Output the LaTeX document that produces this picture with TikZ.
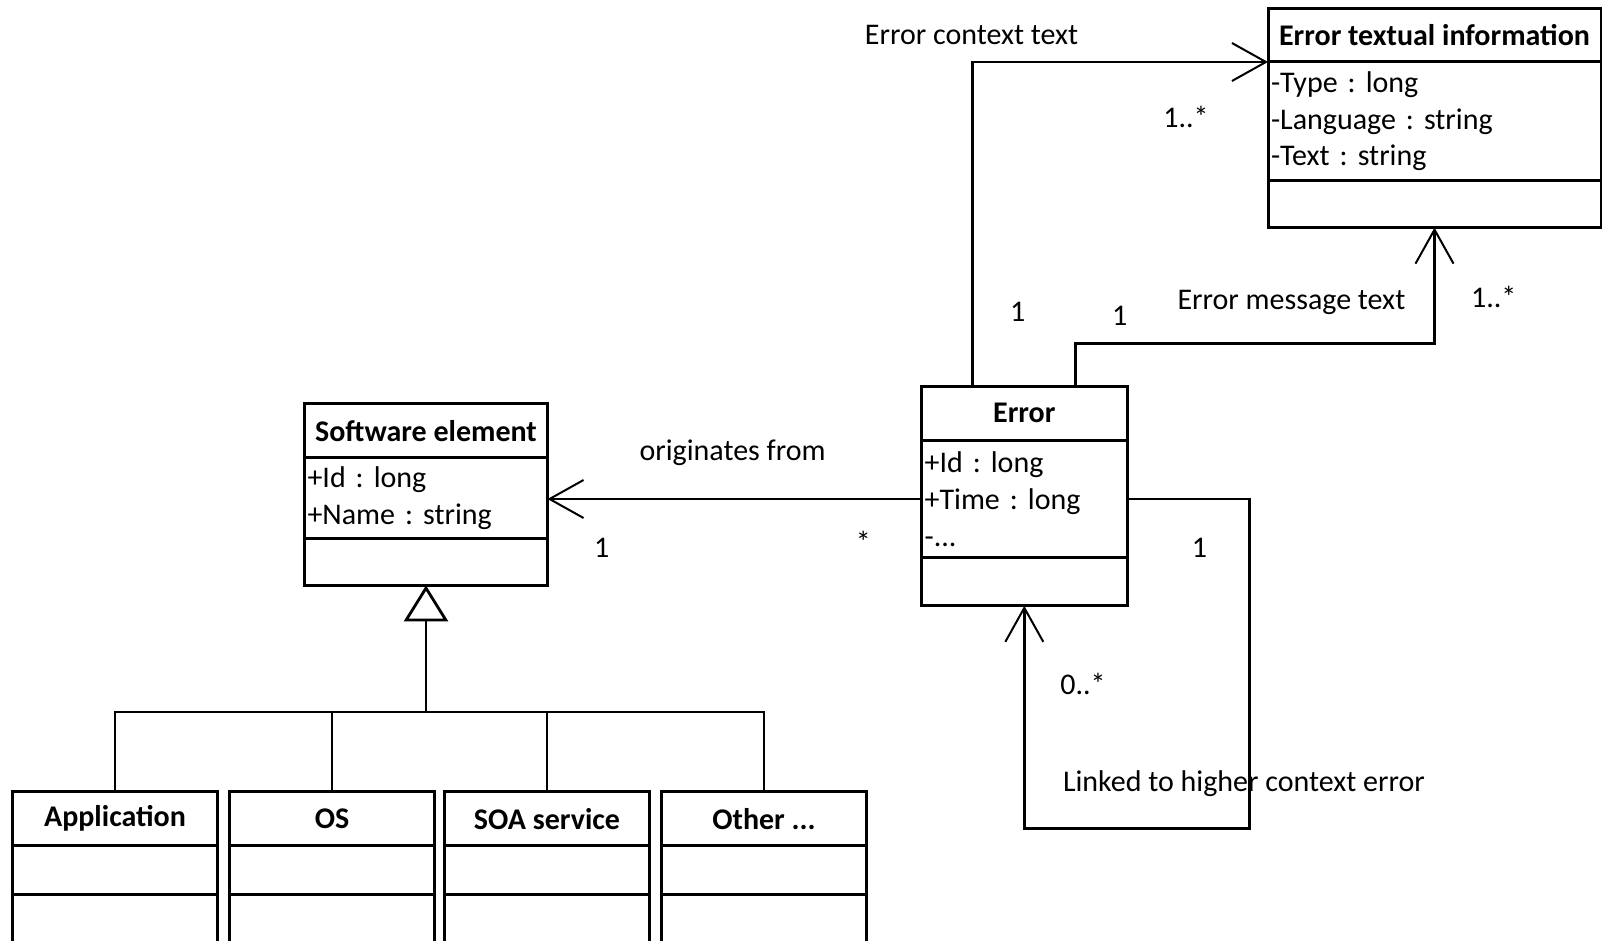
\documentclass[tikz,border=0pt]{standalone}
\usepackage{fontspec}
\setmainfont{Carlito}
\usetikzlibrary{positioning,arrows.meta,calc}
\frenchspacing

\begin{document}
\begin{tikzpicture}[x=0.5pt,y=-0.5pt,font=\fontsize{15}{18.4}\selectfont,
		box/.style={draw,line width=1.5pt,inner sep=0pt,outer sep=0pt},
		head/.style={box,font=\fontsize{15}{18.4}\selectfont\bfseries,anchor=north},
		attrs/.style={box,align=left,inner xsep=1.5pt},
		link/.style={line width=1.4pt,-{Straight Barb[length=17pt,width=19pt,line width=1pt]}},
		inherit/.style={line width=1.4pt,-{Triangle[open,length=18pt,width=22pt,line width=1.4pt]}},
		wire/.style={line width=1.4pt}]
		\useasboundingbox (0,0) rectangle (1602,941);
		\clip (0,0) rectangle (1602,941);
		%
		\node[head,minimum width=166.5pt,minimum height=26.5pt] (eti) at (1434.5,9) {Error textual information};
		\node[attrs,below=0pt of eti,text width=163.5pt,minimum height=59.3pt] (eti-a) {-Type : long\\-Language : string\\-Text : string};
		\node[box,below=0pt of eti-a,minimum width=166.5pt,minimum height=23.5pt] (eti-m) {};
		%
		\node[head,minimum width=102.7pt,minimum height=27pt] (err) at (1024.3,386.2) {Error};
		\node[attrs,below=0pt of err,text width=99.7pt,minimum height=58.8pt] (err-a) {+Id : long\\+Time : long\\-...};
		\node[box,below=0pt of err-a,minimum width=102.7pt,minimum height=24pt] (err-m) {};
		%
		\node[head,minimum width=121.5pt,minimum height=27pt] (se) at (426,403.6) {Software element};
		\node[attrs,below=0pt of se,text width=118.5pt,minimum height=40.4pt] (se-a) {+Id : long\\+Name : string};
		\node[box,below=0pt of se-a,minimum width=121.5pt,minimum height=23.5pt] (se-m) {};
		%
		\node[head,minimum width=102.8pt,minimum height=27pt] (app) at (115,791.8) {Application};
		\node[box,below=0pt of app,minimum width=102.8pt,minimum height=24.5pt] (app-a) {};
		\node[box,below=0pt of app-a,minimum width=102.8pt,minimum height=30pt] (app-m) {};
		\node[head,minimum width=102.8pt,minimum height=27pt] (os) at (332,791.8) {OS};
		\node[box,below=0pt of os,minimum width=102.8pt,minimum height=24.5pt] (os-a) {};
		\node[box,below=0pt of os-a,minimum width=102.8pt,minimum height=30pt] (os-m) {};
		\node[head,minimum width=102.8pt,minimum height=27pt] (soa) at (547,791.8) {SOA service};
		\node[box,below=0pt of soa,minimum width=102.8pt,minimum height=24.5pt] (soa-a) {};
		\node[box,below=0pt of soa-a,minimum width=102.8pt,minimum height=30pt] (soa-m) {};
		\node[head,minimum width=102.8pt,minimum height=27pt] (other) at (764,791.8) {Other ...};
		\node[box,below=0pt of other,minimum width=102.8pt,minimum height=24.5pt] (other-a) {};
		\node[box,below=0pt of other-a,minimum width=102.8pt,minimum height=30pt] (other-m) {};
		%
		\coordinate (ctx) at ($(err.north west)+(51,0)$);
		\coordinate (msg) at ($(err.north west)+(154,0)$);
		\coordinate (msgbend) at ($(eti-m.south)+(0,116)$);
		\coordinate (selfbend) at ($(err-a.east)+(122.5,329.6)$);
		\coordinate (bar) at ($(se-m.south)+(0,126.6)$);
		%
		\draw[link] (ctx) |- (eti-a.north west);
		\draw[link] (msg) |- (msgbend) -- (eti-m.south);
		\draw[link] (err-a.east) -| (selfbend) -| (err-m.south);
		\draw[link] (err-a.west) -- (err-a.west -| se-a.east);
		%
		\draw[inherit] (bar) -- (se-m.south);
		\draw[wire] (app.north) |- (bar) -| (other.north);
		\draw[wire] (os.north) -- (os.north |- bar);
		\draw[wire] (soa.north) -- (soa.north |- bar);
		%
		\node (ctx-l) at (971.6,34.7) {Error context text};
		\node (ctx-m1) at (1186,116.5) {1..*};
		\node (ctx-m2) at (1017.6,311.6) {1};
		\node (msg-l) at (1291.4,302.4) {Error message text};
		\node (msg-m1) at (1493.7,297.3) {1..*};
		\node (msg-m2) at (1119.8,315.7) {1};
		\node (org-l) at (732.6,452.6) {originates from};
		\node (org-m1) at (601.8,547.6) {1};
		\node (org-m2) at (863.3,541.5) {*};
		\node (self-m1) at (1199.5,547.6) {1};
		\node (self-m2) at (1083,683.5) {0..*};
		\node[anchor=west,inner xsep=0pt] (self-l) at (1062.6,783.6) {Linked to higher context error};
	\end{tikzpicture}
\end{document}
